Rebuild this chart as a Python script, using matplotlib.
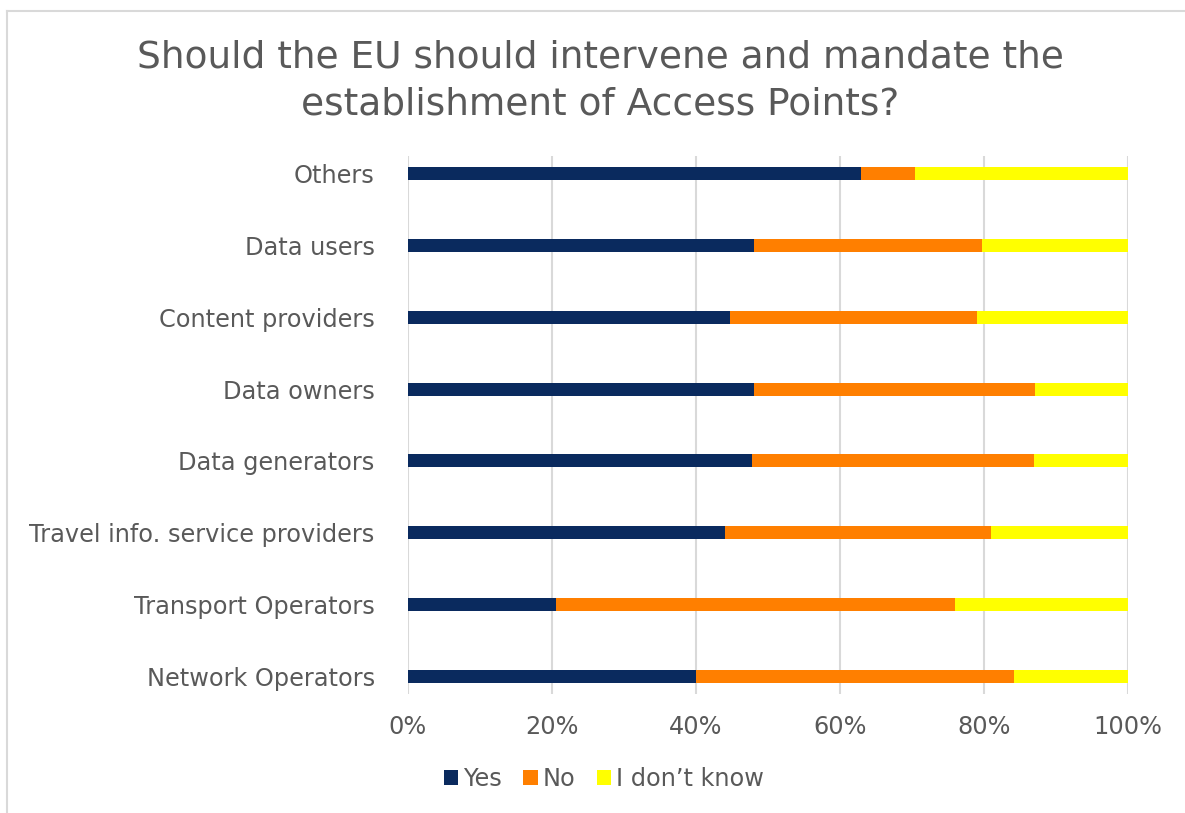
import matplotlib
matplotlib.use("Agg")
import matplotlib.pyplot as plt
from matplotlib.patches import Patch
from matplotlib.lines import Line2D
import numpy as np

categories = ["Others", "Data users", "Content providers", "Data owners",
              "Data generators", "Travel info. service providers",
              "Transport Operators", "Network Operators"]
yes_vals = [62.9, 48.1, 44.7, 48.1, 47.8, 44.0, 20.6, 40.0]
no_vals = [7.5, 31.6, 34.3, 39.0, 39.1, 37.0, 55.4, 44.2]
dk_vals = [29.6, 20.3, 21.0, 12.9, 13.1, 19.0, 24.0, 15.8]
series_names = ["Yes", "No", "I don\u2019t know"]
colors = ["#0A2A5E", "#FF7F00", "#FFFF00"]
xticks = [0, 20, 40, 60, 80, 100]
title = "Should the EU should intervene and mandate the\nestablishment of Access Points?"

text_color = "#595959"
plt.rcParams['font.family'] = ['DejaVu Sans']

fig = plt.figure(figsize=(11.85, 8.13), dpi=100)
ax = fig.add_axes([408/1185, 1-694/813, 720/1185, 538/813])

y = np.arange(len(categories))
left = np.zeros(len(categories))
for vals, c, name in zip([yes_vals, no_vals, dk_vals], colors, series_names):
    ax.barh(y, vals, left=left, height=0.18, color=c, label=name, zorder=3)
    left = left + np.array(vals)

ax.set_xlim(0, 100)
ax.set_ylim(len(categories) - 1 + 0.243, -0.243)
ax.set_yticks(y)
ax.set_yticklabels(categories, fontsize=17.3, color=text_color)
ax.set_xticks(xticks)
ax.set_xticklabels([f"{t}%" for t in xticks], fontsize=17.3, color=text_color)
ax.tick_params(axis='y', length=0, pad=24)
ax.tick_params(axis='x', length=0, pad=15)
for s in ax.spines.values():
    s.set_visible(False)
ax.grid(axis='x', color="#D9D9D9", linewidth=1.5, zorder=0)

fig.text(600/1185, 1-81/813, title, ha='center', va='center', fontsize=27,
         color=text_color, linespacing=1.36)

handles = [Patch(facecolor=c, edgecolor='none') for c in colors]
fig.legend(handles, series_names, loc='center', bbox_to_anchor=(604/1185, 1-779/813),
           ncol=3, frameon=False, fontsize=17.3, labelcolor=text_color,
           handlelength=0.6, handleheight=0.6, handletextpad=0.2, columnspacing=0.9)

# outer chart border (top and left visible)
fig.add_artist(Line2D([7/1185, 1], [1-11/813, 1-11/813], color="#D9D9D9", linewidth=1.5))
fig.add_artist(Line2D([7/1185, 7/1185], [0, 1-11/813], color="#D9D9D9", linewidth=1.5))

fig.savefig("out.png", dpi=100)
